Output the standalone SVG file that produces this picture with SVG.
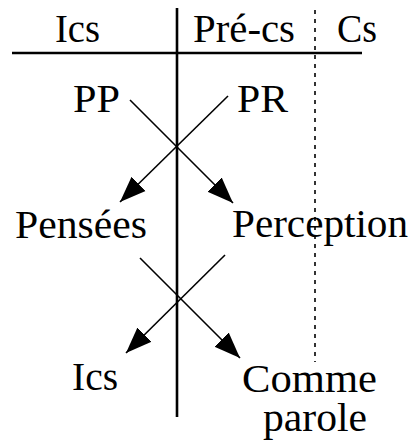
<svg xmlns="http://www.w3.org/2000/svg" width="415" height="441" viewBox="0 0 415 441">
<style>
text{font-family:"Liberation Serif","Times New Roman",serif;font-size:39px;fill:#000}
.axis{stroke:#000;stroke-width:2.6;fill:none}
.dot{stroke:#000;stroke-width:1.6;stroke-dasharray:4 5;fill:none}
.edge{stroke:#000;stroke-width:1.6;fill:none}
.arr{marker-end:url(#ah)}
</style>
<defs>
<marker id="ah" viewBox="0 0 26 22" refX="26" refY="11" markerWidth="26" markerHeight="22" markerUnits="userSpaceOnUse" orient="auto">
<path d="M0,1 L26,11 L0,21 Z" fill="#000"/>
</marker>
</defs>
<rect width="415" height="441" fill="#fff"/>
<g id="axes">
<line class="axis" x1="177" y1="8" x2="177" y2="417"/>
<line class="axis" x1="12" y1="53" x2="362" y2="53"/>
<line class="dot" x1="315" y1="10" x2="315" y2="362"/>
</g>
<g id="headers">
<text x="55" y="42" textLength="45" lengthAdjust="spacingAndGlyphs">Ics</text>
<text x="193" y="42" textLength="102" lengthAdjust="spacingAndGlyphs">Pré-cs</text>
<text x="337" y="42" textLength="40" lengthAdjust="spacingAndGlyphs">Cs</text>
</g>
<g id="node-PP"><text x="73" y="112" textLength="47" lengthAdjust="spacingAndGlyphs">PP</text></g>
<g id="node-PR"><text x="237" y="112" textLength="51" lengthAdjust="spacingAndGlyphs">PR</text></g>
<g id="node-Pensees"><text x="15" y="238" textLength="132" lengthAdjust="spacingAndGlyphs">Pensées</text></g>
<g id="node-Perception"><text x="232" y="237" textLength="176" lengthAdjust="spacingAndGlyphs">Perception</text></g>
<g id="node-Ics"><text x="72" y="390" textLength="46" lengthAdjust="spacingAndGlyphs">Ics</text></g>
<g id="node-Comme-parole">
<text x="242" y="392" textLength="135" lengthAdjust="spacingAndGlyphs">Comme</text>
<text x="263" y="431" textLength="104" lengthAdjust="spacingAndGlyphs">parole</text>
</g>
<g id="connectors">
<line class="edge arr" x1="130" y1="100" x2="233" y2="203"/>
<line class="edge arr" x1="228" y1="96" x2="120" y2="202"/>
<line class="edge arr" x1="140" y1="258" x2="240" y2="358"/>
<line class="edge arr" x1="225" y1="255" x2="126" y2="353"/>
</g>
</svg>
